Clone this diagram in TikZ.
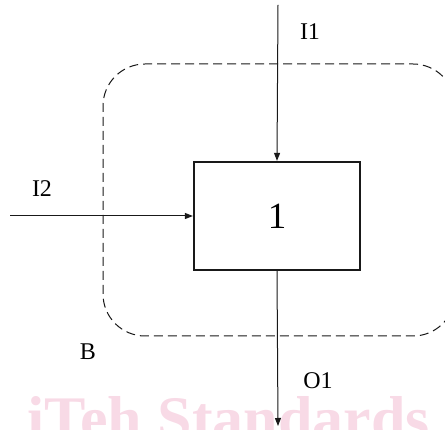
\documentclass[tikz,border=0pt]{standalone}
\usepackage{fontspec}
\setmainfont{Liberation Serif}
\usetikzlibrary{arrows.meta}
\definecolor{wmpink}{RGB}{248,218,230}
\begin{document}
\begin{tikzpicture}[x=1pt,y=1pt,
  flow/.style={draw=black!90, line width=1pt, -{Triangle[length=8pt,width=6pt]}},
  procbox/.style={draw=black!90, line width=2.2pt, minimum width=166pt, minimum height=108pt, inner sep=0pt, font=\fontsize{37}{42}\selectfont},
  lbl/.style={font=\fontsize{24}{28}\selectfont, inner sep=0pt},
  boundary/.style={draw=black!90, line width=1pt, dash pattern=on 9pt off 5pt, rounded corners=42pt}]
\useasboundingbox (0,0) rectangle (445,430);
\clip (0,0) rectangle (445,430);
% watermark
\node[anchor=base west, inner sep=0pt, text=wmpink, font=\fontsize{62}{70}\selectfont\bfseries] (wm) at (27,-10) {iTeh Standards};
% boundary
\draw[boundary] (103,94) rectangle (455,366);
% process box
\node[procbox] (p1) at (277,214) {1};
\coordinate (i1) at (278,425);
\coordinate (i2) at (10,214);
\coordinate (o1) at (278,4);
\draw[flow] (i1) -- (p1.north);
\draw[flow] (i2) -- (p1.west);
\draw[flow] (p1.south) -- (o1);
% labels
\node[lbl] (li1) at (310,398) {I1};
\node[lbl] (li2) at (42,241) {I2};
\node[lbl] (lb) at (88,78) {B};
\node[lbl] (lo1) at (318,49) {O1};
\end{tikzpicture}
\end{document}
